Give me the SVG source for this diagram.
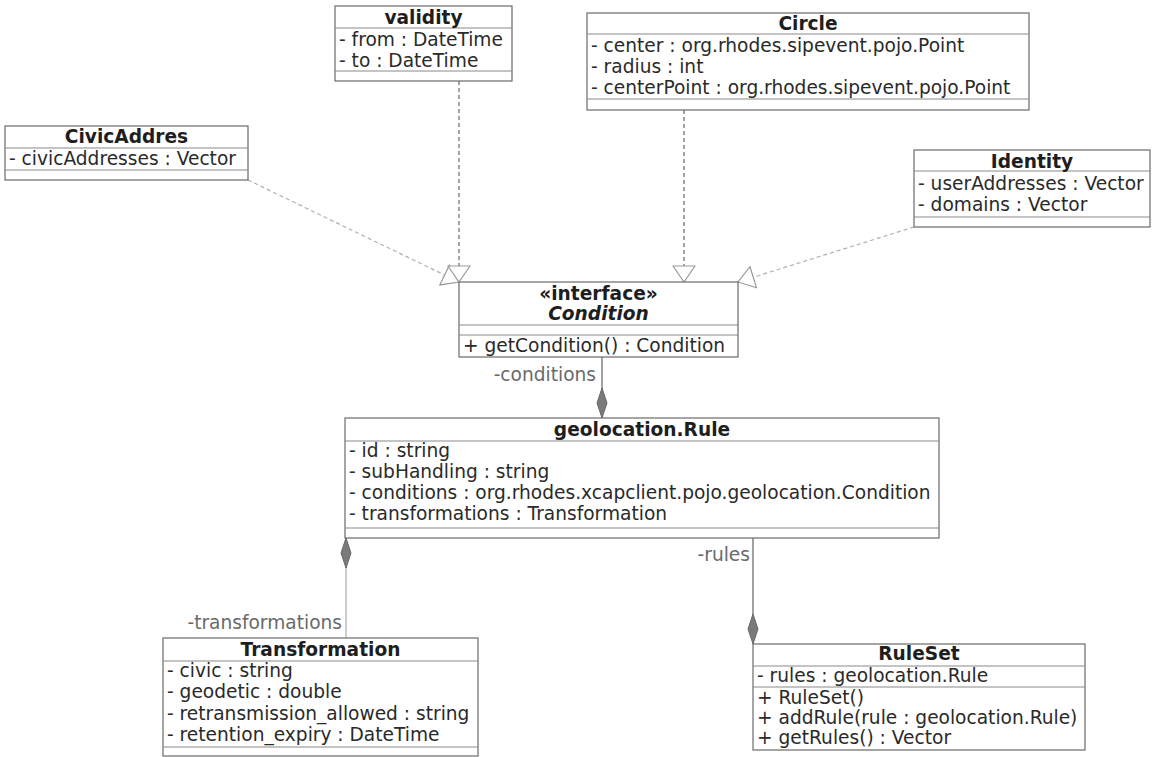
<svg xmlns="http://www.w3.org/2000/svg" width="1156" height="757" viewBox="0 0 1156 757">
  <style>
    .box { fill: #ffffff; stroke: #6a6a6a; stroke-width: 1.2; }
    .sep { stroke: #8a8a8a; stroke-width: 1.2; }
    .name { font-family: "DejaVu Sans", sans-serif; font-size: 18.6px; font-weight: bold; text-anchor: middle; fill: #1e1e1e; }
    .iface { font-style: italic; }
    .attr { font-family: "DejaVu Sans", sans-serif; font-size: 18.6px; fill: #2a2a2a; }
    .real { stroke: #8c8c8c; stroke-width: 1.2; stroke-dasharray: 4 3; fill: none; }
    .real.dark { stroke: #666666; }
    .real.light { stroke: #b0b0b0; }
    .comp { stroke: #7a7a7a; stroke-width: 1.4; fill: none; }
    .comp.light { stroke: #b8b8b8; }
    .role { font-family: "DejaVu Sans", sans-serif; font-size: 18.6px; fill: #6a6a6a; text-anchor: end; }
  </style>
  <defs>
    <!-- open triangle: realization of an interface -->
    <marker id="realize" viewBox="0 0 18 24" refX="17" refY="12" markerWidth="18" markerHeight="24" markerUnits="userSpaceOnUse" orient="auto">
      <path d="M1,1 L17,12 L1,23 Z" fill="#ffffff" stroke="#9a9a9a" stroke-width="1.2"/>
    </marker>
    <!-- filled diamond: composition -->
    <marker id="compose" viewBox="0 0 32 12" refX="31" refY="6" markerWidth="32" markerHeight="12" markerUnits="userSpaceOnUse" orient="auto">
      <path d="M1,6 L16,1 L31,6 L16,11 Z" fill="#7a7a7a" stroke="#6a6a6a" stroke-width="1"/>
    </marker>
  </defs>

  <!-- connectors -->
  <g id="connectors">
    <line class="real light" x1="248" y1="180" x2="459" y2="282" marker-end="url(#realize)"/>
    <line class="real dark" x1="459" y1="81" x2="459" y2="282" marker-end="url(#realize)"/>
    <line class="real dark" x1="684" y1="110" x2="684" y2="282" marker-end="url(#realize)"/>
    <line class="real light" x1="914" y1="227" x2="738" y2="282" marker-end="url(#realize)"/>
    <line class="comp" x1="602" y1="357" x2="602" y2="418" marker-end="url(#compose)"/>
    <line class="comp light" x1="346" y1="638" x2="346" y2="538" marker-end="url(#compose)"/>
    <line class="comp" x1="753" y1="538" x2="753" y2="644" marker-end="url(#compose)"/>
    <text class="role" x="596" y="381">-conditions</text>
    <text class="role" x="342" y="629">-transformations</text>
    <text class="role" x="750" y="561">-rules</text>
  </g>

  <g id="validity">
    <rect class="box" x="335" y="6" width="177" height="75"/>
    <line class="sep" x1="335" y1="28" x2="512" y2="28"/>
    <line class="sep" x1="335" y1="71" x2="512" y2="71"/>
    <text class="name" x="423.5" y="24">validity</text>
    <text class="attr" x="339" y="46">- from : DateTime</text>
    <text class="attr" x="339" y="67">- to : DateTime</text>
  </g>

  <g id="CivicAddres">
    <rect class="box" x="5" y="126" width="243" height="54"/>
    <line class="sep" x1="5" y1="148" x2="248" y2="148"/>
    <line class="sep" x1="5" y1="170" x2="248" y2="170"/>
    <text class="name" x="126.5" y="143">CivicAddres</text>
    <text class="attr" x="9" y="165">- civicAddresses : Vector</text>
  </g>

  <g id="Circle">
    <rect class="box" x="587" y="13" width="442" height="97"/>
    <line class="sep" x1="587" y1="34" x2="1029" y2="34"/>
    <line class="sep" x1="587" y1="99" x2="1029" y2="99"/>
    <text class="name" x="808" y="30">Circle</text>
    <text class="attr" x="591" y="52">- center : org.rhodes.sipevent.pojo.Point</text>
    <text class="attr" x="591" y="73">- radius : int</text>
    <text class="attr" x="591" y="94">- centerPoint : org.rhodes.sipevent.pojo.Point</text>
  </g>

  <g id="Identity">
    <rect class="box" x="914" y="150" width="236" height="77"/>
    <line class="sep" x1="914" y1="171" x2="1150" y2="171"/>
    <line class="sep" x1="914" y1="217" x2="1150" y2="217"/>
    <text class="name" x="1032" y="168">Identity</text>
    <text class="attr" x="918" y="190">- userAddresses : Vector</text>
    <text class="attr" x="918" y="211">- domains : Vector</text>
  </g>

  <g id="Condition">
    <rect class="box" x="459" y="282" width="279" height="75"/>
    <line class="sep" x1="459" y1="325" x2="738" y2="325"/>
    <line class="sep" x1="459" y1="335" x2="738" y2="335"/>
    <text class="name" x="598.5" y="300">«interface»</text>
    <text class="name iface" x="598.5" y="320">Condition</text>
    <text class="attr" x="463" y="352">+ getCondition() : Condition</text>
  </g>

  <g id="Rule">
    <rect class="box" x="345" y="418" width="594" height="120"/>
    <line class="sep" x1="345" y1="441" x2="939" y2="441"/>
    <line class="sep" x1="345" y1="528" x2="939" y2="528"/>
    <text class="name" x="642" y="436">geolocation.Rule</text>
    <text class="attr" x="349" y="457">- id : string</text>
    <text class="attr" x="349" y="478">- subHandling : string</text>
    <text class="attr" x="349" y="499">- conditions : org.rhodes.xcapclient.pojo.geolocation.Condition</text>
    <text class="attr" x="349" y="520">- transformations : Transformation</text>
  </g>

  <g id="Transformation">
    <rect class="box" x="163" y="638" width="315" height="118"/>
    <line class="sep" x1="163" y1="661" x2="478" y2="661"/>
    <line class="sep" x1="163" y1="747" x2="478" y2="747"/>
    <text class="name" x="320.5" y="656">Transformation</text>
    <text class="attr" x="167" y="677">- civic : string</text>
    <text class="attr" x="167" y="698">- geodetic : double</text>
    <text class="attr" x="167" y="720">- retransmission_allowed : string</text>
    <text class="attr" x="167" y="741">- retention_expiry : DateTime</text>
  </g>

  <g id="RuleSet">
    <rect class="box" x="753" y="644" width="332" height="106"/>
    <line class="sep" x1="753" y1="666" x2="1085" y2="666"/>
    <line class="sep" x1="753" y1="687" x2="1085" y2="687"/>
    <text class="name" x="919" y="660">RuleSet</text>
    <text class="attr" x="757" y="682">- rules : geolocation.Rule</text>
    <text class="attr" x="757" y="704">+ RuleSet()</text>
    <text class="attr" x="757" y="724">+ addRule(rule : geolocation.Rule)</text>
    <text class="attr" x="757" y="744">+ getRules() : Vector</text>
  </g>
</svg>
